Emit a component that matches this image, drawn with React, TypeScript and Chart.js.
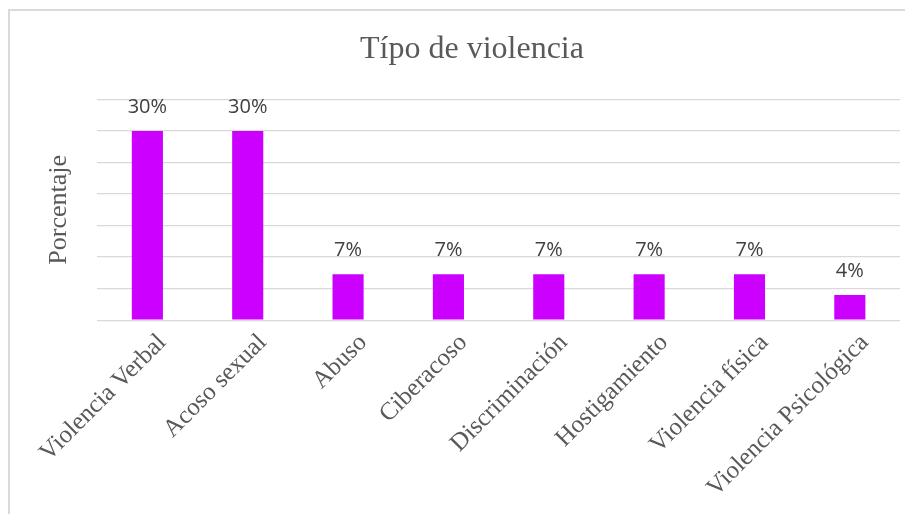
import React, { useEffect, useRef } from "react";
import { Chart, registerables } from "chart.js";

Chart.register(...registerables);

const categories = [
  "Violencia Verbal",
  "Acoso sexual",
  "Abuso",
  "Ciberacoso",
  "Discriminación",
  "Hostigamiento",
  "Violencia física",
  "Violencia Psicológica",
];
const percentages = [30, 30, 7.3, 7.3, 7.3, 7.3, 7.3, 4];
const yMax = 35;
const yStep = 5;

const barLabels = {
  id: "barLabels",
  afterDatasetsDraw(chart: any) {
    const { ctx } = chart;
    const meta = chart.getDatasetMeta(0);
    const values = chart.data.datasets[0].data as number[];
    ctx.save();
    ctx.font = "20px 'Open Sans', 'Liberation Sans', sans-serif";
    ctx.fillStyle = "#404040";
    ctx.textAlign = "center";
    ctx.textBaseline = "middle";
    meta.data.forEach((el: any, i: number) => {
      ctx.fillText(Math.round(values[i]) + "%", el.x, el.y - 24);
    });
    ctx.restore();
  },
};

export default function App() {
  const ref = useRef<HTMLCanvasElement | null>(null);
  useEffect(() => {
    if (!ref.current) return;
    const chart = new Chart(ref.current, {
      type: "bar",
      data: {
        labels: categories,
        datasets: [
          {
            data: percentages,
            backgroundColor: "#CC00FF",
            barPercentage: 0.31,
            categoryPercentage: 1,
          },
        ],
      },
      options: {
        animation: false,
        responsive: false,
        layout: { padding: { left: 34, right: 13, top: 0, bottom: 11 } },
        plugins: {
          legend: { display: false },
          tooltip: { enabled: false },
          title: {
            display: true,
            text: "Típo de violencia",
            color: "#595959",
            font: { family: "'Liberation Serif', serif", size: 32, weight: "normal" },
            padding: { top: 19, bottom: 31 },
          },
        },
        scales: {
          x: {
            grid: { display: false },
            border: { display: false },
            ticks: {
              color: "#595959",
              font: { family: "'Liberation Serif', serif", size: 25 },
              minRotation: 45,
              maxRotation: 45,
              padding: 0,
              labelOffset: 15,
            },
          },
          y: {
            min: 0,
            max: yMax,
            ticks: { display: false, stepSize: yStep },
            grid: { color: "#d9d9d9", lineWidth: 1.3, drawTicks: false },
            border: { display: false },
            title: {
              display: true,
              text: "Porcentaje",
              color: "#595959",
              font: { family: "'Liberation Serif', serif", size: 26 },
              padding: { top: 0, bottom: 22 },
            },
          },
        },
      },
      plugins: [barLabels],
    });
    return () => chart.destroy();
  }, []);
  return (
    <div
      style={{
        width: 905,
        height: 505,
        marginTop: 1,
        borderLeft: "2px solid #d9d9d9",
        borderTop: "2px solid #d9d9d9",
        boxSizing: "border-box",
        overflow: "hidden",
        background: "#fff",
      }}
    >
      <canvas ref={ref} width={903} height={503} style={{ display: "block" }} />
    </div>
  );
}
